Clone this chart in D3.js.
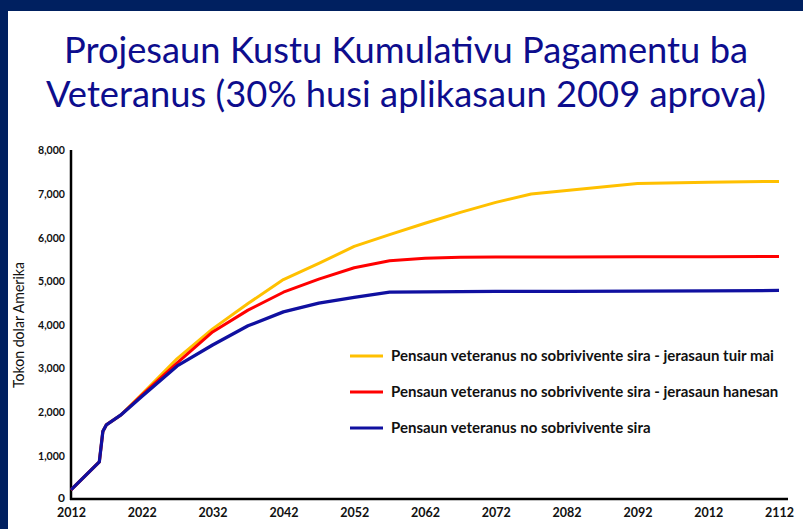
<!DOCTYPE html>
<html>
<head>
<meta charset="utf-8">
<script src="https://cdn.jsdelivr.net/npm/d3@7"></script>
<style>
  body { margin: 0; background: #fff; }
  svg { display: block; }
  text { font-family: Lato, "Open Sans", sans-serif; }
</style>
</head>
<body>
<div id="chart"></div>
<script>
// data
const years = [2012, 2016, 2016.5, 2017, 2019, 2022, 2027, 2032, 2037, 2042, 2047, 2052, 2057, 2062, 2067, 2072, 2077, 2082, 2092, 2102, 2112];
const futureGen  = [210, 850, 1550, 1700, 1920, 2400, 3220, 3900, 4480, 5030, 5400, 5790, 6060, 6320, 6570, 6800, 6990, 7070, 7230, 7260, 7280];
const sameGen    = [210, 850, 1550, 1700, 1920, 2380, 3120, 3830, 4330, 4740, 5040, 5300, 5460, 5520, 5540, 5550, 5550, 5550, 5555, 5555, 5560];
const noSurvivor = [210, 850, 1550, 1700, 1920, 2350, 3050, 3530, 3970, 4290, 4490, 4620, 4740, 4750, 4755, 4760, 4760, 4760, 4765, 4770, 4780];

const tickYears = [2012, 2022, 2032, 2042, 2052, 2062, 2072, 2082, 2092, 2102, 2112];
const tickLabels = ["2012", "2022", "2032", "2042", "2052", "2062", "2072", "2082", "2092", "2012", "2112"];
const yTicks = [0, 1000, 2000, 3000, 4000, 5000, 6000, 7000, 8000];

const seriesNames = [
  "Pensaun veteranus no sobrivivente sira - jerasaun tuir mai",
  "Pensaun veteranus no sobrivivente sira - jerasaun hanesan",
  "Pensaun veteranus no sobrivivente sira"
];
const seriesValues = [futureGen, sameGen, noSurvivor];
const seriesColors = ["#ffc000", "#ff0000", "#1010a0"];

const titleLines = [
  "Projesaun Kustu Kumulativu Pagamentu ba",
  "Veteranus (30% husi aplikasaun 2009 aprova)"
];

var width = 803, height = 529;
var svg = d3.select("#chart").append("svg")
  .attr("width", width)
  .attr("height", height);

// dark frame on left and top
svg.append("rect").attr("x", 0).attr("y", 0).attr("width", width).attr("height", height).attr("fill", "#ffffff");
svg.append("rect").attr("x", 0).attr("y", 0).attr("width", 8).attr("height", height).attr("fill", "#002060");
svg.append("rect").attr("x", 0).attr("y", 0).attr("width", width).attr("height", 11).attr("fill", "#002060");

// shrink a text to a width if it is wider
function fit(sel, w) {
  sel.each(function() {
    var len = this.getComputedTextLength();
    if (len > w) {
      d3.select(this).attr("textLength", w).attr("lengthAdjust", "spacingAndGlyphs");
    }
  });
}

svg.selectAll(".title")
  .data(titleLines)
  .enter().append("text")
  .attr("class", "title")
  .attr("x", 406)
  .attr("y", (d, i) => 63 + i * 44)
  .attr("text-anchor", "middle")
  .attr("font-size", 36.5)
  .attr("fill", "#0d0d8d")
  .text(d => d)
  .each(function(d, i) { fit(d3.select(this), i == 0 ? 684 : 720); });

var xScale = d3.scaleLinear().domain([2012, 2112]).range([71, 779]);
var yScale = d3.scaleLinear().domain([0, 8000]).range([499, 150]);

// y axis
var yAxis = svg.append("g")
  .attr("transform", "translate(71,0)")
  .call(d3.axisLeft(yScale).tickValues(yTicks).tickSize(0).tickPadding(6).tickFormat(d3.format(",")));
yAxis.select(".domain").remove();
yAxis.selectAll("text")
  .attr("font-size", 12)
  .attr("font-weight", "bold")
  .attr("fill", "#111")
  .attr("dy", (d) => d == 0 ? "0.2em" : "0.32em")
  .style("font-family", "Lato, 'Open Sans', sans-serif")
  .call(fit, 27);

// x axis
var xAxis = svg.append("g")
  .attr("transform", "translate(0,499)")
  .call(d3.axisBottom(xScale).tickValues(tickYears).tickSize(0).tickPadding(8)
    .tickFormat((d, i) => tickLabels[i]));
xAxis.select(".domain").remove();
xAxis.selectAll("text")
  .attr("font-size", 13.5)
  .attr("font-weight", "bold")
  .attr("fill", "#111")
  .style("font-family", "Lato, 'Open Sans', sans-serif")
  .call(fit, 29);

// axis lines
svg.append("line")
  .attr("x1", xScale(2012)).attr("x2", xScale(2012))
  .attr("y1", yScale(8000)).attr("y2", yScale(0) + 1)
  .attr("stroke", "#000").attr("stroke-width", 2.5);
svg.append("line")
  .attr("x1", xScale(2012) - 1).attr("x2", xScale(2112) + 9)
  .attr("y1", yScale(0)).attr("y2", yScale(0))
  .attr("stroke", "#000").attr("stroke-width", 2.5);

svg.append("text")
  .attr("transform", "translate(24,325) rotate(-90)")
  .attr("text-anchor", "middle")
  .attr("font-size", 15)
  .attr("fill", "#111")
  .text("Tokon dolar Amerika")
  .call(fit, 126);

// lines
var line = d3.line()
  .x((d, i) => xScale(years[i]))
  .y(d => yScale(d));

svg.selectAll(".series")
  .data(seriesValues)
  .enter().append("path")
  .attr("class", "series")
  .attr("d", d => line(d))
  .attr("fill", "none")
  .attr("stroke", (d, i) => seriesColors[i])
  .attr("stroke-width", (d, i) => i == 2 ? 3.3 : 3)
  .attr("stroke-linejoin", "round");

// legend
var legend = svg.selectAll(".legend")
  .data(seriesNames)
  .enter().append("g")
  .attr("class", "legend")
  .attr("transform", (d, i) => "translate(350," + (356 + i * 36) + ")");
legend.append("line")
  .attr("x1", 0).attr("x2", 33)
  .attr("y1", 0).attr("y2", 0)
  .attr("stroke", (d, i) => seriesColors[i])
  .attr("stroke-width", 3);
legend.append("text")
  .attr("x", 41)
  .attr("y", 5)
  .attr("font-size", 15)
  .attr("font-weight", "bold")
  .attr("fill", "#111")
  .text(d => d)
  .each(function(d, i) { fit(d3.select(this), [392, 396, 264][i]); });
</script>
</body>
</html>
